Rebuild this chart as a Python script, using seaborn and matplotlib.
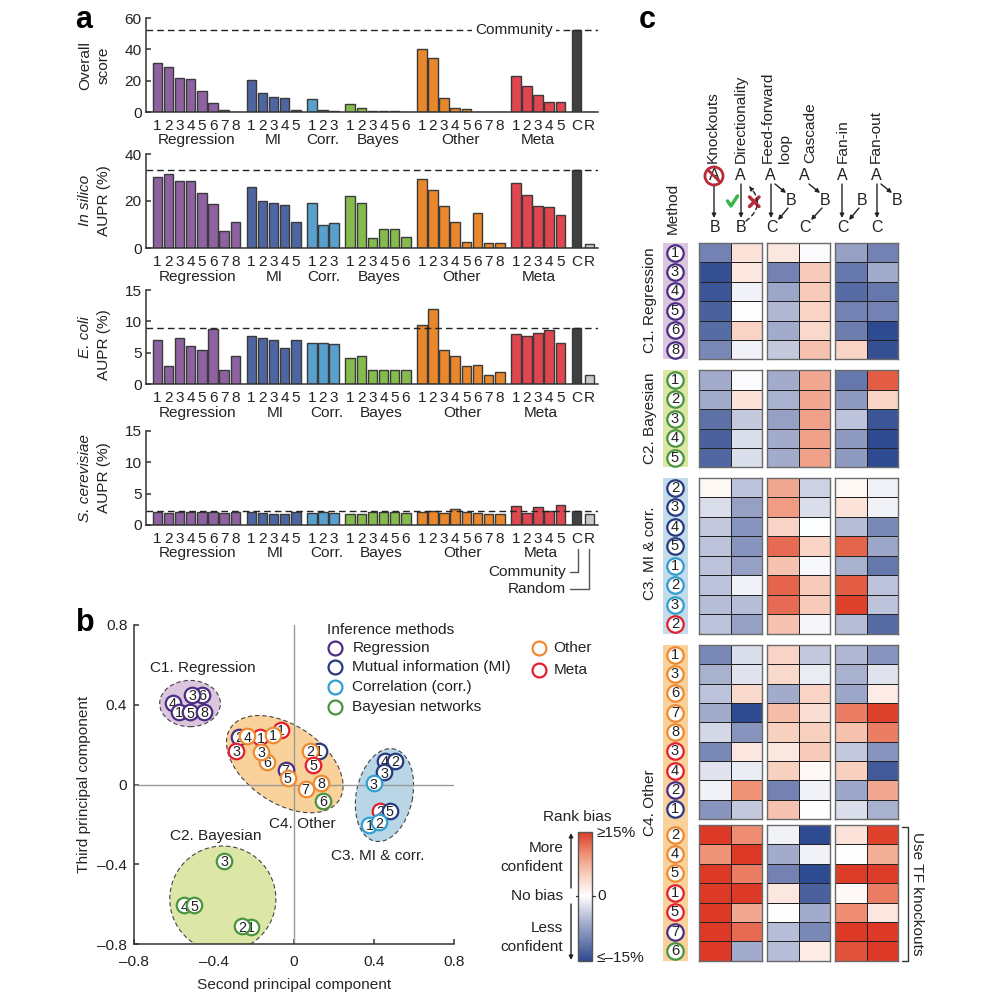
import numpy as np
import pandas as pd
import matplotlib
matplotlib.use("Agg")
import matplotlib.pyplot as plt
from matplotlib.cm import ScalarMappable
from matplotlib.colors import LinearSegmentedColormap, Normalize
from matplotlib.patches import Ellipse
import seaborn as sns

# bar panels
group_names = ["Regression", "MI", "Corr.", "Bayes", "Other", "Meta", "Community", "Random"]
group_sizes = [8, 5, 3, 6, 8, 5, 1, 1]
overall_score = [31.3, 29, 21.5, 20.9, 13.6, 6, 1.3, 0.3,
                 20.4, 12.1, 9.4, 8.9, 1.5,
                 8.3, 1.5, 0.9,
                 4.9, 2.5, 0.6, 0.4, 0.4, 0.2,
                 40.2, 34.3, 8.9, 2.6, 2, 0.2, 0.2, 0.2,
                 22.8, 16.6, 10.6, 6.4, 6.4,
                 52.6, 0]
in_silico = [30.4, 31.6, 28.4, 28.5, 23.3, 18.7, 7.2, 11.2,
             25.8, 20, 19, 18.4, 10.9,
             19.1, 9.6, 10.6,
             22, 19.3, 4.4, 8.2, 8.2, 4.5,
             29.4, 24.8, 17.9, 10.9, 2.7, 15, 2, 2.1,
             27.7, 22.7, 17.9, 17.6, 13.9,
             33, 1.6]
e_coli = [7, 2.8, 7.3, 6.1, 5.5, 8.8, 2.3, 4.4,
          7.6, 7.4, 7, 5.7, 7.1,
          6.5, 6.6, 6.4,
          4.1, 4.4, 2.2, 2.2, 2.2, 2.2,
          9.4, 12, 5.4, 4.4, 2.9, 3.1, 1.5, 1.9,
          8, 7.6, 8.2, 8.6, 6.6,
          9, 1.4]
s_cerevisiae = [2, 1.9, 2, 2.1, 2.1, 2, 1.9, 2,
                2.1, 1.9, 1.8, 1.8, 2,
                1.9, 2, 1.9,
                1.8, 1.8, 2, 2, 2, 1.9,
                2.1, 2.2, 1.9, 2.5, 2, 1.9, 1.7, 1.7,
                3.1, 1.9, 2.8, 2.3, 3.2,
                2.2, 1.7]
community_levels = [52.6, 33, 9, 2.2]
bar_colors = ["#8e62a0", "#4d65a3", "#5aa0cf", "#85bb4c", "#e8872b", "#e0464f", "#3f3f3f", "#c8c8c8"]

# PCA panel, listed from bottom circle to top circle
pc2 = [-0.608, -0.46, -0.509, -0.578, -0.519, -0.449,
       -0.275, -0.289, -0.169, -0.068, -0.234, -0.107, -0.135, -0.164, -0.043, -0.032,
       0.124, 0.08, 0.095, 0.145, 0.058, 0.134,
       0.454, 0.506, 0.452, 0.399, 0.431, 0.479, 0.377, 0.426,
       -0.349, -0.549, -0.501, -0.217, -0.262]
pc3 = [0.41, 0.449, 0.449, 0.364, 0.362, 0.366,
       0.239, 0.17, 0.237, 0.275, 0.242, 0.25, 0.113, 0.164, 0.075, 0.035,
       0.169, 0.169, 0.1, -0.082, -0.022, 0.008,
       0.12, 0.119, 0.062, 0.007, -0.132, -0.132, -0.202, -0.19,
       -0.382, -0.606, -0.606, -0.713, -0.71]
pc_numbers = [4, 6, 3, 1, 5, 8,
              2, 3, 1, 1, 4, 1, 6, 3, 7, 5,
              1, 2, 5, 6, 7, 8,
              4, 2, 3, 3, 2, 5, 1, 2,
              3, 4, 5, 1, 2]
pc_methods = ["reg"] * 6 + ["reg", "meta", "meta", "meta", "other", "other", "other", "other", "reg", "other",
              "mi", "other", "meta", "bayes", "other", "other",
              "mi", "mi", "mi", "corr", "meta", "mi", "corr", "corr"] + ["bayes"] * 5
method_colors = {"reg": "#4b2e83", "mi": "#27397f", "corr": "#2f9fd0", "bayes": "#4a9440",
                 "other": "#ee8a32", "meta": "#e0202f"}

# heatmap panel, columns: knockouts, directionality, FFL, cascade, fan-in, fan-out
c1_bias = [[-10, 3, 2.5, -0.3, -7.5, -10],
           [-14.5, 2.5, -10, 5.5, -11, -6.5],
           [-14, -1, -7, 5.5, -12, -11],
           [-13, 0, -5.5, 4.5, -10, -10],
           [-12, 4.5, -6.5, 4, -10.5, -15],
           [-9.5, -1, -4, 6, 4.5, -14.5]]
c2_bias = [[-6.5, -0.3, -6.5, 8, -11, 13],
           [-6.5, 3, -6, 8, -8, 4.5],
           [-11.5, -4, -7.5, 8.5, -4.5, -14],
           [-13, -2.5, -6.5, 8.5, -8, -15],
           [-12.5, -2.5, -6.5, 8.5, -8, -15]]
c3_bias = [[0.8, -4.5, 8, -3.5, 0.8, -1],
           [-2.5, -7.5, 9, -2.5, 3, -1],
           [-4, -8.5, 4.5, -0.2, -5, -9.5],
           [-4.5, -8.5, 12, 4.5, 12.5, -7],
           [-4.5, -7.5, 6, -0.5, -6, -11],
           [-4.5, -1, 12.5, 5.5, 13, -4.5],
           [-5, -5, 12, 5.5, 14.5, -4.5],
           [-4.5, -7.5, 6, -0.7, -5, -12]]
c4_bias = [[-9.5, -2.5, 4.5, -4, -5.5, -8.5],
           [-6, -2, 4, -1.5, -6, -2],
           [-4.5, 4, -6.5, 4.5, -7, 2],
           [-6.5, -15, 6.5, 3.5, 11, 14.5],
           [-3, -8.5, 5, 5, 6, 11],
           [-9.5, 2.5, 2.5, 5.5, -4, -8.5],
           [-2, -1.5, 5, 0.6, 5, -13.5],
           [-1, 9.5, -10, -1, -7, 8],
           [-8.5, -4, 6, 0, -2.5, -6]]
tf_bias = [[15, 10, -1, -15, 3, 14.5],
           [9.5, 15, -6.5, -1, 0, 7.5],
           [15, 11, -10, -15, 14.8, 14.8],
           [15, 15, 2.5, -13, 0.7, 11],
           [15, 8, 0, -6.5, 10, 2.5],
           [15, 12, -5, -9.5, 15, 15],
           [15, -6.5, -5, 2, 13.5, 15]]
c1_rows = [("reg", 1), ("reg", 3), ("reg", 4), ("reg", 5), ("reg", 6), ("reg", 8)]
c2_rows = [("bayes", 1), ("bayes", 2), ("bayes", 3), ("bayes", 4), ("bayes", 5)]
c3_rows = [("mi", 2), ("mi", 3), ("mi", 4), ("mi", 5), ("corr", 1), ("corr", 2), ("corr", 3), ("meta", 2)]
c4_rows = [("other", 1), ("other", 3), ("other", 6), ("other", 7), ("other", 8),
           ("meta", 3), ("meta", 4), ("reg", 2), ("mi", 1)]
tf_rows = [("other", 2), ("other", 4), ("other", 5), ("meta", 1), ("meta", 5), ("reg", 7), ("bayes", 6)]

bias_cmap = LinearSegmentedColormap.from_list(
    "bias", ["#2e4a90", "#7483b2", "#b6bdd6", "#ffffff", "#f8d0c0", "#ee8e72", "#dc3a26"])

sns.set_style("white")
plt.rcParams["font.family"] = ["Liberation Sans", "DejaVu Sans"]
FS = 11.1
plt.rcParams["font.size"] = FS
plt.rcParams["text.color"] = "#222222"
INK = "#333333"

fig = plt.figure(figsize=(10, 10), dpi=100)


def axes_px(x0, y0, x1, y1):
    return fig.add_axes([x0 / 1000, 1 - y1 / 1000, (x1 - x0) / 1000, (y1 - y0) / 1000])


def style_axis(ax):
    sns.despine(ax=ax)
    for side in ["left", "bottom"]:
        ax.spines[side].set_color(INK)
        ax.spines[side].set_linewidth(1.1)


# positions of the bars: groups are set apart by a wider step
bar_pos = []
group_of_bar = []
x = 0.0
for name, size in zip(group_names, group_sizes):
    for j in range(size):
        bar_pos.append(x)
        group_of_bar.append(name)
        x += 1
    x += 0.17 if name == "Community" else 0.43
bar_pos = np.array(bar_pos)
tick_labels = []
for name, size in zip(group_names, group_sizes):
    if name == "Community":
        tick_labels.append("C")
    elif name == "Random":
        tick_labels.append("R")
    else:
        tick_labels.extend(str(k + 1) for k in range(size))

panels = [
    (overall_score, 18, 112, 60, [0, 20, 40, 60], 0),
    (in_silico, 154, 248, 40, [0, 20, 40], 1),
    (e_coli, 290, 384, 15, [0, 5, 10, 15], 2),
    (s_cerevisiae, 431, 525, 15, [0, 5, 10, 15], 3),
]
for values, top, bottom, ymax, yticks, k in panels:
    ax = axes_px(146, top, 598.3, bottom)
    df = pd.DataFrame({"pos": bar_pos, "value": values, "group": group_of_bar})
    sns.barplot(data=df, x="pos", y="value", hue="group", palette=dict(zip(group_names, bar_colors)),
                native_scale=True, dodge=False, width=0.85, saturation=1, legend=False, errorbar=None,
                edgecolor="#3a3a3a", linewidth=1, ax=ax)
    ax.axhline(community_levels[k], color="#222222", lw=1, dashes=(4.8, 2.9), zorder=1)
    ax.set_xlim(-1.013, 39.55)
    ax.set_ylim(0, ymax)
    ax.set_xticks(bar_pos, tick_labels)
    ax.set_yticks(yticks)
    ax.set_xlabel("")
    ax.set_ylabel("")
    ax.tick_params(axis="x", length=0, pad=5, labelsize=FS, colors="#222222")
    ax.tick_params(axis="y", direction="in", length=3.6, width=1.1, pad=3.2, labelsize=FS,
                   left=True, color=INK, labelcolor="#222222")
    style_axis(ax)

# panel b
ax_pc = axes_px(134.3, 625, 454, 944)
cluster_shapes = [((-0.521, 0.406), 0.304, 0.232, 0, "#dcc6dd"),
                  ((-0.047, 0.102), 0.653, 0.39, -34, "#f9d29b"),
                  ((0.452, -0.053), 0.472, 0.282, 78.5, "#b9d6e6"),
                  ((-0.357, -0.574), 0.531, 0.531, 0, "#dce6a6")]
for center, w, h, angle, color in cluster_shapes:
    ax_pc.add_patch(Ellipse(center, w, h, angle=angle, facecolor=color, edgecolor="#444444",
                            lw=0.8, ls=(0, (4, 2.5)), zorder=1))
ax_pc.axhline(0, color="#999999", lw=1, zorder=1.5)
ax_pc.axvline(0, color="#999999", lw=1, zorder=1.5)
for i, (px, py, num, method) in enumerate(zip(pc2, pc3, pc_numbers, pc_methods)):
    # later circles cover the number of earlier ones, as in the original
    sns.scatterplot(x=[px], y=[py], s=125, color="white", edgecolor=method_colors[method],
                    linewidth=1.6, ax=ax_pc, zorder=3 + i * 2, legend=False)
    ax_pc.text(px, py, str(num), ha="center", va="center_baseline", fontsize=10.3, zorder=4 + i * 2)
ax_pc.set_xlim(-0.8, 0.8)
ax_pc.set_ylim(-0.8, 0.8)
ax_pc.set_xticks([-0.8, -0.4, 0, 0.4, 0.8], ["–0.8", "–0.4", "0", "0.4", "0.8"])
ax_pc.set_yticks([-0.8, -0.4, 0, 0.4, 0.8], ["–0.8", "–0.4", "0", "0.4", "0.8"])
ax_pc.tick_params(axis="x", direction="in", length=3.5, width=1.1, bottom=True, color=INK,
                  labelsize=FS, labelcolor="#222222", pad=8)
ax_pc.tick_params(axis="y", direction="in", length=3.5, width=1.1, left=True, color=INK,
                  labelsize=FS, labelcolor="#222222", pad=5)
ax_pc.set_xlabel("Second principal component", fontsize=FS)
ax_pc.set_ylabel("Third principal component", fontsize=FS)
ax_pc.xaxis.set_label_coords(0.5, -0.107)
ax_pc.yaxis.set_label_coords(-0.135, 0.5)
style_axis(ax_pc)

# panel c
column_spans = [(699.3, 762), (767.3, 830), (835.3, 898)]
blocks = [(c1_bias, c1_rows, 243, 359.3, "#dcc6dd"),
          (c2_bias, c2_rows, 370.3, 467.3, "#dce6a6"),
          (c3_bias, c3_rows, 478, 633.7, "#c4dcea"),
          (c4_bias, c4_rows, 645, 819, "#f9d29b"),
          (tf_bias, tf_rows, 825, 960.7, "#f9d29b")]
for bias, rows, top, bottom, strip in blocks:
    bias = np.array(bias)
    for c, (left, right) in enumerate(column_spans):
        ax = axes_px(left, top, right, bottom)
        sns.heatmap(bias[:, 2 * c:2 * c + 2], vmin=-15, vmax=15, cmap=bias_cmap, cbar=False,
                    linewidths=0.5, linecolor="#222222", xticklabels=False, yticklabels=False, ax=ax)
        for spine in ax.spines.values():
            spine.set_visible(True)
            spine.set_color("#6a6a6a")
            spine.set_linewidth(1)

# colour bar
cax = axes_px(578.3, 831.7, 592.3, 960.7)
cbar = fig.colorbar(ScalarMappable(Normalize(-15, 15), bias_cmap), cax=cax)
cbar.set_ticks([0], labels=[""])
cbar.ax.tick_params(length=0)
cbar.outline.set_edgecolor("#555555")
cbar.outline.set_linewidth(1)

# everything else is annotation in pixel coordinates on a clear layer
ov = fig.add_axes([0, 0, 1, 1], zorder=20)
ov.set_xlim(0, 1000)
ov.set_ylim(1000, 0)
ov.axis("off")


def put(x, y, s, ha="center", va="center", **kw):
    kw.setdefault("fontsize", FS)
    ov.text(x, y, s, ha=ha, va=va, **kw)


def arrow(x0, y0, x1, y1, **kw):
    props = dict(arrowstyle="-|>", color="#222222", lw=1, shrinkA=0, shrinkB=0, mutation_scale=6)
    props.update(kw)
    ov.annotate("", xy=(x1, y1), xytext=(x0, y0), arrowprops=props)


put(84, 20, "a", fontsize=22, fontweight="bold", color="black")
put(85, 623, "b", fontsize=22, fontweight="bold", color="black")
put(647, 20, "c", fontsize=22, fontweight="bold", color="black")

# group names under the bars
name_y = [140, 277, 413, 553.3]
lower_shift = {"Corr.": 4, "Bayes": 3, "Meta": 2.5}
start = 0
for name, size in zip(group_names[:6], group_sizes[:6]):
    center = 157.3 + 11.15 * (bar_pos[start] + bar_pos[start + size - 1]) / 2
    for k, y in enumerate(name_y):
        shift = lower_shift.get(name, 1.5) if k >= 2 else (1 if k else 0)
        put(center + shift, y, name)
    start += size

put(85, 65, "Overall", rotation=90)
put(104, 65, "score", rotation=90)
put(85, 200, "In silico", rotation=90, style="italic")
put(104, 201, "AUPR (%)", rotation=90)
put(85, 337, "E. coli", rotation=90, style="italic")
put(104, 345, "AUPR (%)", rotation=90)
put(85, 478, "S. cerevisiae", rotation=90, style="italic")
put(104, 478, "AUPR (%)", rotation=90)
put(514, 30, "Community", bbox=dict(facecolor="white", edgecolor="none", pad=2.5))

put(566, 572, "Community", ha="right")
put(566, 589, "Random", ha="right")
ov.plot([578.3, 578.3, 570], [549, 572.3, 572.3], color="#555555", lw=1)
ov.plot([589, 589, 570], [549, 589.3, 589.3], color="#555555", lw=1)

# panel b labels and legend
put(203, 668, "C1. Regression")
put(215.7, 835.7, "C2. Bayesian")
put(302, 824, "C4. Other")
put(378, 855.7, "C3. MI & corr.")
put(327.3, 630, "Inference methods", ha="left")
legend_entries = [(335, 647.7, "reg", "Regression"), (335, 667.3, "mi", "Mutual information (MI)"),
                  (335, 687.3, "corr", "Correlation (corr.)"), (335, 707.3, "bayes", "Bayesian networks"),
                  (539.3, 647.7, "other", "Other"), (539.3, 670, "meta", "Meta")]
for lx, ly, method, label in legend_entries:
    ov.scatter([lx], [ly], s=100, facecolor="white", edgecolor=method_colors[method], linewidth=1.6)
    put(lx + (17.3 if lx < 400 else 14), ly, label, ha="left")

# row strips and method circles of the heatmap
for bias, rows, top, bottom, strip in blocks:
    row_h = (bottom - top) / len(rows)
    ov.fill_between([663.3, 687.7], top, bottom, color=strip, lw=0)
    for r, (method, num) in enumerate(rows):
        y = top + (r + 0.5) * row_h
        ov.scatter([675], [y], s=140, facecolor="white", edgecolor=method_colors[method], linewidth=1.6, zorder=5)
        put(675, y, str(num), fontsize=10.6, zorder=6)
ov.fill_between([663.3, 687.7], 819, 825, color="#f9d29b", lw=0)

put(650, 300, "C1. Regression", rotation=90)
put(650, 418, "C2. Bayesian", rotation=90)
put(650, 553, "C3. MI & corr.", rotation=90)
put(650, 803, "C4. Other", rotation=90)
put(673, 208, "Method", rotation=90)

# column headers and motifs
header_x = [(713, "Knockouts"), (740.7, "Directionality"), (768, "Feed-forward"), (785, "loop"),
            (810.7, "Cascade"), (843, "Fan-in"), (876, "Fan-out")]
for hx, label in header_x:
    put(hx, 163, label, va="bottom", rotation=90)

motif_letters = [(714, 176, "A"), (714.7, 228, "B"), (740.7, 176, "A"), (741, 228, "B"),
                 (770.7, 176, "A"), (790.7, 200.7, "B"), (772, 228, "C"),
                 (804, 176, "A"), (824.7, 200.7, "B"), (805, 228, "C"),
                 (842, 176, "A"), (862.3, 200.7, "B"), (843.3, 228, "C"),
                 (876, 176, "A"), (896.7, 200.7, "B"), (877.3, 228, "C")]
for mx, my, letter in motif_letters:
    put(mx, my, letter, fontsize=11.5)
motif_arrows = [(714, 184, 714, 218), (741, 184, 741, 218),
                (771, 184, 771, 218), (775, 184, 786, 193), (788, 208, 778, 220),
                (809, 184, 820, 193), (822, 208, 811, 220),
                (842, 184, 842, 218), (859, 208, 849, 220),
                (881, 184, 892, 193), (877, 184, 877, 218)]
for seg in motif_arrows:
    arrow(*seg)
ov.scatter([714], [176], s=170, facecolor="none", edgecolor="#b92a3a", linewidth=2, zorder=6)
ov.plot([708, 720], [170, 182], color="#b92a3a", lw=2, zorder=6)
ov.plot([727.5, 731, 737.5], [201, 206, 196], color="#3bb54a", lw=2.5)
ov.plot([749.5, 759], [197, 206.5], color="#b92a3a", lw=2.5)
ov.plot([749.5, 759], [206.5, 197], color="#b92a3a", lw=2.5)
arrow(746, 221, 749, 186, linestyle=(0, (3, 2.5)), connectionstyle="arc3,rad=0.55")

# bracket for the TF knockout methods
ov.plot([902.3, 907.7, 907.7, 902.3], [826.7, 826.7, 960.7, 960.7], color="#333333", lw=1)
put(916.7, 894, "Use TF knockouts", rotation=-90)

# colour bar labels
put(577.7, 817, "Rank bias")
put(596.7, 833, "≥15%", ha="left")
put(597, 896, "0", ha="left")
put(596.7, 957.7, "≤–15%", ha="left")
put(563.3, 847.7, "More", ha="right")
put(563.3, 867, "confident", ha="right")
put(563.3, 895.7, "No bias", ha="right")
put(563.3, 927.7, "Less", ha="right")
put(563.3, 947, "confident", ha="right")
arrow(571, 888, 571, 833)
arrow(571, 904, 571, 960)
ov.plot([575.5, 578.3], [896, 896], color="#333333", lw=0.9)
ov.plot([592.3, 595], [896, 896], color="#333333", lw=0.9)

fig.savefig("out.png", dpi=100)
